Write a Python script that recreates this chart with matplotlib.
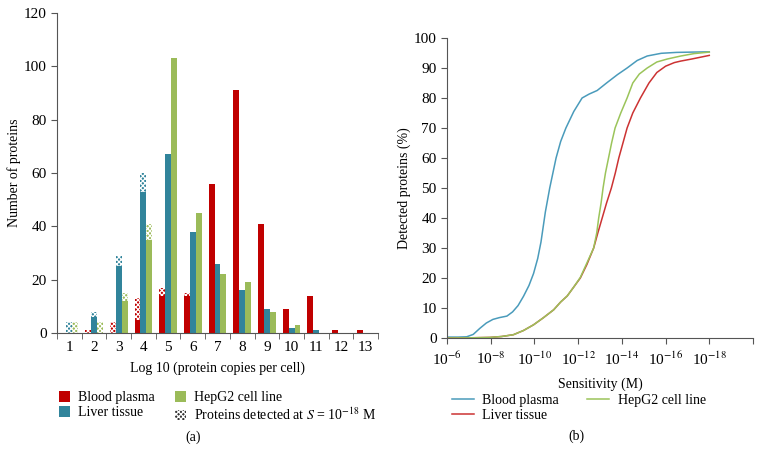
import matplotlib
matplotlib.use("Agg")
import matplotlib.pyplot as plt
from matplotlib.patches import Patch
import numpy as np

plt.rcParams['font.family'] = ['Liberation Serif', 'DejaVu Serif']
plt.rcParams['mathtext.fontset'] = 'stix'
plt.rcParams['hatch.linewidth'] = 0.9

# ---- Panel (a) data ----
categories = [1, 2, 3, 4, 5, 6, 7, 8, 9, 10, 11, 12, 13]
plasma_solid = [0, 0, 0, 5, 14, 14, 56, 91, 41, 9, 14, 1, 1]
plasma_total = [0, 1, 4, 13, 17, 15, 56, 91, 41, 9, 14, 1, 1]
liver_solid = [0, 6, 25, 53, 67, 38, 26, 16, 9, 2, 1, 0, 0]
liver_total = [4, 8, 29, 60, 67, 38, 26, 16, 9, 2, 1, 0, 0]
hepg2_solid = [0, 0, 12, 35, 103, 45, 22, 19, 8, 3, 0, 0, 0]
hepg2_total = [4, 4, 15, 41, 103, 45, 22, 19, 8, 3, 0, 0, 0]

# ---- Panel (b) data (x = -log10 sensitivity) ----
plasma_x = [6.0, 6.5, 6.9, 7.2, 7.5, 7.8, 8.1, 8.4, 8.74, 9.0, 9.25, 9.5, 9.75, 9.96,
            10.15, 10.3, 10.5, 10.7, 10.99, 11.2, 11.44, 11.8, 12.18, 12.5, 12.87,
            13.3, 13.8, 14.24, 14.7, 15.16, 15.8, 16.5, 17.2, 18.0]
plasma_y = [0.3, 0.3, 0.4, 1.2, 3.2, 5.0, 6.2, 6.8, 7.3, 8.7, 10.8, 13.9, 17.5, 21.5,
            26.5, 32, 42, 50, 60, 65.5, 70, 75.5, 80, 81.3, 82.5,
            85, 87.8, 90, 92.5, 94, 94.9, 95.2, 95.3, 95.4]
liver_x = [6.0, 7.0, 7.97, 8.5, 9.04, 9.5, 9.96, 10.4, 10.88, 11.2, 11.5, 11.8, 12.1,
           12.4, 12.71, 12.9, 13.1, 13.3, 13.52, 13.7, 13.86, 14.05, 14.24, 14.5,
           14.85, 15.24, 15.6, 16.0, 16.4, 16.69, 17.2, 17.6, 18.0]
liver_y = [0, 0.05, 0.2, 0.5, 1.1, 2.5, 4.4, 6.7, 9.4, 12, 14, 17, 20,
           24.5, 30, 35, 40, 45, 50, 55, 60, 65, 70, 75,
           80, 85, 88.5, 90.6, 91.8, 92.3, 93, 93.6, 94.2]
hepg2_x = [6.0, 7.0, 7.97, 8.5, 9.04, 9.5, 9.96, 10.4, 10.88, 11.2, 11.5, 11.8, 12.1,
           12.4, 12.71, 12.85, 12.94, 13.05, 13.14, 13.25, 13.39, 13.53, 13.69,
           13.95, 14.24, 14.5, 14.8, 15.16, 15.6, 16.08, 16.7, 17.3, 18.0]
hepg2_y = [0, 0.05, 0.2, 0.5, 1.1, 2.5, 4.4, 6.7, 9.4, 12, 14, 17, 20.2,
           25, 30, 35, 40, 45, 50, 55, 60, 65, 70,
           75, 80, 85, 88, 90, 92, 93, 94, 94.8, 95.3]
xticks_b = [6, 8, 10, 12, 14, 16, 18]

RED = '#C00000'
BLUE = '#31849B'
GREEN = '#9BBB59'
LBLUE = '#4A9BBB'
LRED = '#CC3333'
LGREEN = '#9BC45A'
SPINE = '#555555'
TICKFS = 11

fig = plt.figure(figsize=(7.62, 4.62), dpi=100)

# ---------------- Panel (a) ----------------
axa = fig.add_axes([57/762, 1-333/462, 321/762, 320/462])
x = np.array(categories, dtype=float)
w = 0.24
series = [(plasma_solid, plasma_total, RED, -w),
          (liver_solid, liver_total, BLUE, 0.0),
          (hepg2_solid, hepg2_total, GREEN, w)]
for solid, total, col, off in series:
    solid = np.array(solid, dtype=float)
    total = np.array(total, dtype=float)
    axa.bar(x + off, solid, width=w, color=col, linewidth=0)
    axa.bar(x + off, total - solid, bottom=solid, width=w, facecolor=col,
            edgecolor='white', hatch='xxxxxxx', linewidth=0)

axa.set_xlim(0.5, 13.5)
axa.set_ylim(0, 120)
axa.set_yticks(range(0, 121, 20))
axa.set_xticks(x)
axa.set_xticks(np.arange(0.5, 13.6, 1.0), minor=True)
axa.tick_params(axis='x', which='major', length=0, labelsize=TICKFS, pad=6)
axa.tick_params(axis='x', which='minor', length=4, direction='out', color=SPINE)
axa.tick_params(axis='y', length=4, direction='out', color=SPINE, labelsize=TICKFS)
for s in ['top', 'right']:
    axa.spines[s].set_visible(False)
for s in ['left', 'bottom']:
    axa.spines[s].set_color(SPINE)
axa.set_ylabel('Number of proteins', fontsize=10)
axa.yaxis.set_label_coords(-0.112, 0.5)
axa.set_xlabel('Log 10 (protein copies per cell)', fontsize=10, labelpad=5)

handles_a = [Patch(facecolor=RED, linewidth=0, label='Blood plasma'),
             Patch(facecolor=BLUE, linewidth=0, label='Liver tissue'),
             Patch(facecolor=GREEN, linewidth=0, label='HepG2 cell line'),
             Patch(facecolor='#333333', edgecolor='white', hatch='xxxxxxx', linewidth=0,
                   label='Proteins detected at $\\mathit{S}$ = 10$^{-18}$ M')]
fig.legend(handles=handles_a, loc='upper left', bbox_to_anchor=(52/762, 1-384/462),
           ncol=2, frameon=False, fontsize=10, handlelength=0.8, handleheight=0.8,
           handletextpad=0.6, columnspacing=1.4, labelspacing=0.15, borderpad=0)
fig.text(193/762, 1-437/462, '(a)', ha='center', va='center', fontsize=10)

# ---------------- Panel (b) ----------------
axb = fig.add_axes([447/762, 1-338/462, 306/762, 300/462])
axb.plot(plasma_x, plasma_y, color=LBLUE, lw=1.1, label='Blood plasma')
axb.plot(liver_x, liver_y, color=LRED, lw=1.1, label='Liver tissue')
axb.plot(hepg2_x, hepg2_y, color=LGREEN, lw=1.1, label='HepG2 cell line')
axb.set_xlim(6, 20)
axb.set_ylim(0, 100)
axb.set_yticks(range(0, 101, 10))
axb.set_xticks(xticks_b + [20])
axb.set_xticklabels([f'10$^{{-{v}}}$' for v in xticks_b] + [''])
axb.tick_params(axis='x', length=4, direction='out', color=SPINE, labelsize=TICKFS, pad=5)
axb.tick_params(axis='y', length=4, direction='out', color=SPINE, labelsize=TICKFS)
for s in ['top', 'right']:
    axb.spines[s].set_visible(False)
for s in ['left', 'bottom']:
    axb.spines[s].set_color(SPINE)
axb.set_ylabel('Detected proteins (%)', fontsize=10)
axb.yaxis.set_label_coords(-0.118, 0.5)
axb.set_xlabel('Sensitivity (M)', fontsize=10, labelpad=7)

h = axb.get_legend_handles_labels()[0]
handles_b = [h[0], h[1], h[2]]
fig.legend(handles=handles_b, loc='upper left', bbox_to_anchor=(445/762, 1-387/462),
           ncol=2, frameon=False, fontsize=10, handlelength=1.6,
           handletextpad=0.6, columnspacing=2.0, labelspacing=0.15, borderpad=0)
fig.text(576/762, 1-436/462, '(b)', ha='center', va='center', fontsize=10)

fig.savefig('out.png', dpi=100)
